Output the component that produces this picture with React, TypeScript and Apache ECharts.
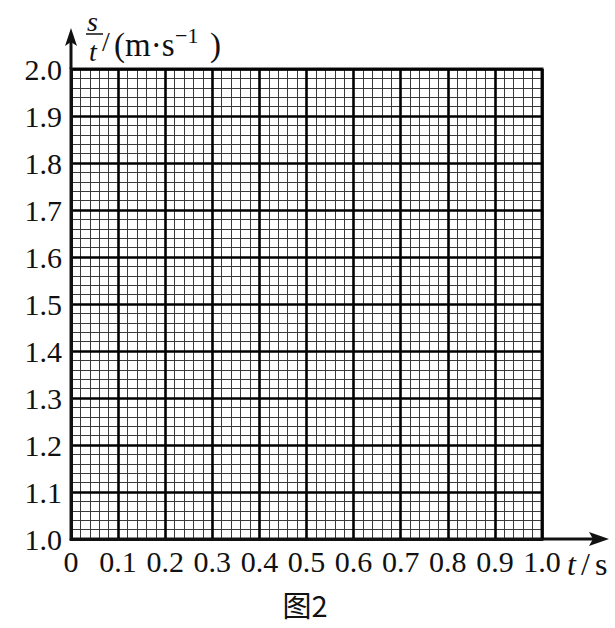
import React, { useEffect, useRef } from "react";
import * as echarts from "echarts";

const xTickValues = [0, 0.1, 0.2, 0.3, 0.4, 0.5, 0.6, 0.7, 0.8, 0.9, 1.0];
const xTickLabels = ["0", "0.1", "0.2", "0.3", "0.4", "0.5", "0.6", "0.7", "0.8", "0.9", "1.0"];
const yTickValues = [1.0, 1.1, 1.2, 1.3, 1.4, 1.5, 1.6, 1.7, 1.8, 1.9, 2.0];
const yTickLabels = ["1.0", "1.1", "1.2", "1.3", "1.4", "1.5", "1.6", "1.7", "1.8", "1.9", "2.0"];
const xMinorStep = 0.02;
const yMinorStep = 0.02;
const seriesData: number[][] = [];

const SERIF = "'Liberation Serif', 'Times New Roman', serif";

function labelFor(values: number[], labels: string[], v: number) {
  let best = 0;
  for (let i = 0; i < values.length; i++) {
    if (Math.abs(values[i] - v) < Math.abs(values[best] - v)) best = i;
  }
  return labels[best];
}

export default function App() {
  const ref = useRef<HTMLDivElement>(null);
  useEffect(() => {
    if (!ref.current) return;
    const chart = echarts.init(ref.current, null, { renderer: "svg" });
    const L = 71, T = 69, W = 471, H = 470;
    const txt = (x: number, y: number, text: string, size: number, extra: any = {}) => ({
      type: "text", x, y,
      style: { text, fontFamily: SERIF, fontSize: size, fill: "#111", align: "left", verticalAlign: "middle", ...extra },
    });
    const hiddenAxis = (min: number, max: number, step: number) => ({
      type: "value", min, max, interval: step,
      axisLine: { show: false }, axisTick: { show: false }, axisLabel: { show: false },
      splitLine: { show: true, lineStyle: { color: "#3a3a3a", width: 1 } },
    });
    chart.setOption({
      animation: false,
      backgroundColor: "#ffffff",
      grid: [
        { left: L, top: T, width: W, height: H, show: true, borderColor: "#1a1a1a", borderWidth: 3, backgroundColor: "transparent", z: 3 },
        { left: L, top: T, width: W, height: H },
      ],
      xAxis: [
        {
          gridIndex: 0, type: "value", min: 0, max: 1, interval: 0.1, z: 5,
          axisLine: { show: true, lineStyle: { color: "#111", width: 3 } },
          axisTick: { show: false },
          splitLine: { show: true, lineStyle: { color: "#000", width: 2.6 } },
          axisLabel: {
            fontFamily: SERIF, fontSize: 30, color: "#111", margin: 7,
            formatter: (v: number) => labelFor(xTickValues, xTickLabels, v),
          },
        },
        { gridIndex: 1, z: 1, ...hiddenAxis(0, 1, xMinorStep) },
      ],
      yAxis: [
        {
          gridIndex: 0, type: "value", min: 1.0, max: 2.0, interval: 0.1, z: 5,
          axisLine: { show: true, lineStyle: { color: "#111", width: 3 } },
          axisTick: { show: false },
          splitLine: { show: true, lineStyle: { color: "#000", width: 2.6 } },
          axisLabel: {
            fontFamily: SERIF, fontSize: 30, color: "#111", margin: 9,
            padding: [8, 0, 0, 0],
            formatter: (v: number) => labelFor(yTickValues, yTickLabels, v),
          },
        },
        { gridIndex: 1, z: 1, ...hiddenAxis(1.0, 2.0, yMinorStep) },
      ],
      series: [
        { type: "scatter", xAxisIndex: 0, yAxisIndex: 0, data: seriesData, symbolSize: 0 },
        { type: "scatter", xAxisIndex: 1, yAxisIndex: 1, data: seriesData, symbolSize: 0 },
      ],
      graphic: [
        // axis extensions and arrows
        { type: "line", shape: { x1: L + W, y1: T + H, x2: 596, y2: T + H }, style: { stroke: "#111", lineWidth: 3 } },
        { type: "polygon", shape: { points: [[609, T + H], [589, T + H - 7], [593, T + H], [589, T + H + 7]] }, style: { fill: "#111" } },
        { type: "line", shape: { x1: L, y1: T, x2: L, y2: 42 }, style: { stroke: "#111", lineWidth: 3 } },
        { type: "polygon", shape: { points: [[L, 28], [L - 6, 46], [L, 42], [L + 6, 46]] }, style: { fill: "#111" } },
        // x axis title t/s
        txt(567, 564, "t", 32, { fontStyle: "italic" }),
        txt(581, 564, "/", 32),
        txt(595, 564, "s", 32),
        // y axis title: fraction s/t
        txt(92.5, 21, "s", 28, { fontStyle: "italic", align: "center" }),
        { type: "line", shape: { x1: 86, y1: 34, x2: 103, y2: 34 }, style: { stroke: "#111", lineWidth: 1.5 } },
        txt(93, 51, "t", 28, { fontStyle: "italic", align: "center" }),
        txt(102, 41, "/", 28),
        txt(114, 45, "(m·s", 33),
        txt(175, 35, "−1", 22),
        txt(210, 45, ")", 33),
        // caption
        { type: "text", x: 305, y: 604, style: { text: "图2", fontFamily: "'Noto Sans CJK SC', " + SERIF, fontSize: 29, fill: "#111", align: "center", verticalAlign: "middle" } },
      ],
    });
    return () => chart.dispose();
  }, []);
  return <div ref={ref} style={{ position: "fixed", left: 0, top: 0, width: 615, height: 628, background: "#fff" }} />;
}
